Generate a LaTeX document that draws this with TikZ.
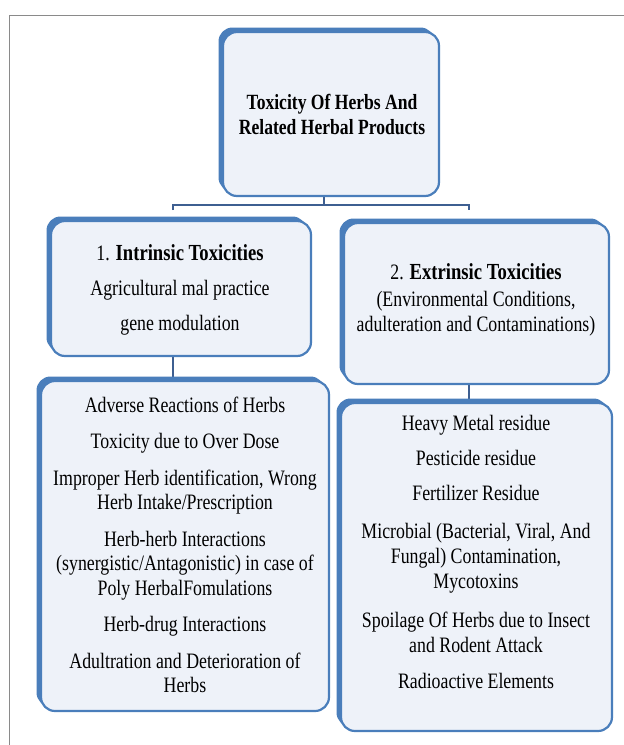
\documentclass[tikz,border=0pt]{standalone}
\usepackage{fontspec}
\setmainfont{Liberation Serif}[FakeStretch=0.81]
\usetikzlibrary{shadows,backgrounds}
\definecolor{boxblue}{HTML}{4A7EBB}
\definecolor{boxfill}{HTML}{EEF2F9}
\definecolor{linkblue}{HTML}{3E5F91}
\definecolor{framegrey}{HTML}{8A8A8A}
\newcommand{\hdbold}[1]{{\fontsize{23}{24.5}\selectfont\bfseries #1}}
\begin{document}
\begin{tikzpicture}[x=1pt,y=-1pt,
  tbox/.style={draw=boxblue, line width=2.2pt, fill=boxfill, rounded corners=14pt, inner sep=0pt,
    general shadow={fill=boxblue, shadow xshift=-4.5pt, shadow yshift=4.5pt}},
  txt/.style={align=center, font=\fontsize{22}{24.5}\selectfont, inner sep=0pt},
  link/.style={draw=linkblue, line width=2.4pt}]
\useasboundingbox (0,0) rectangle (624,745);
\draw[framegrey, line width=1pt] (9.5,745) -- (9.5,15.5) -- (624,15.5);

\node[tbox, minimum width=216pt, minimum height=164pt] (top) at (331,114) {};
\node[tbox, minimum width=260pt, minimum height=135pt] (intr) at (181,288.5) {};
\node[tbox, minimum width=265pt, minimum height=161pt] (extr) at (476.5,303.5) {};
\node[tbox, minimum width=288pt, minimum height=330pt] (low1) at (185,546) {};
\node[tbox, minimum width=271pt, minimum height=328pt] (low2) at (476.5,567) {};

\node[txt, font=\fontsize{21.7}{25}\selectfont\bfseries] (toptxt) at (332,114)
  {Toxicity Of Herbs And\\Related Herbal Products};
\node[txt] (intrtxt) at (180,290)
  {1. \hdbold{Intrinsic Toxicities}\\[10.5pt]Agricultural mal practice\\[10.5pt]gene modulation};
\node[txt] (extrtxt) at (476,299.5)
  {2. \hdbold{Extrinsic Toxicities}\\[3pt](Environmental Conditions,\\adulteration and Contaminations)};
\node[txt] (low1txt) at (185,545)
  {Adverse Reactions of Herbs\\[12pt]
   Toxicity due to Over Dose\\[12pt]
   Improper Herb identification, Wrong\\Herb Intake/Prescription\\[12pt]
   Herb-herb Interactions\\(synergistic/Antagonistic) in case of\\Poly HerbalFomulations\\[12pt]
   Herb-drug Interactions\\[12pt]
   Adultration and Deterioration of\\Herbs};
\node[txt, font=\fontsize{22}{25}\selectfont] (low2txt) at (476,551.5)
  {Heavy Metal residue\\[10pt]
   Pesticide residue\\[10pt]
   Fertilizer Residue\\[13pt]
   Microbial (Bacterial, Viral, And\\Fungal) Contamination,\\Mycotoxins\\[14pt]
   Spoilage Of Herbs due to Insect\\and Rodent Attack\\[11pt]
   Radioactive Elements};

\coordinate (topX) at (324,0);
\coordinate (busL) at (173,205);
\coordinate (busR) at (469,205);
\begin{scope}[on background layer]
  \draw[link] (top.south -| topX) -- (busL -| topX);
  \draw[link] ([yshift=-5pt]busL) -- (busL) -- (busR) -- ([yshift=-5pt]busR);
  \draw[link] (intr.south -| busL) -- (low1.north -| busL);
  \draw[link] (extr.south -| busR) -- (low2.north -| busR);
\end{scope}
\end{tikzpicture}
\end{document}
